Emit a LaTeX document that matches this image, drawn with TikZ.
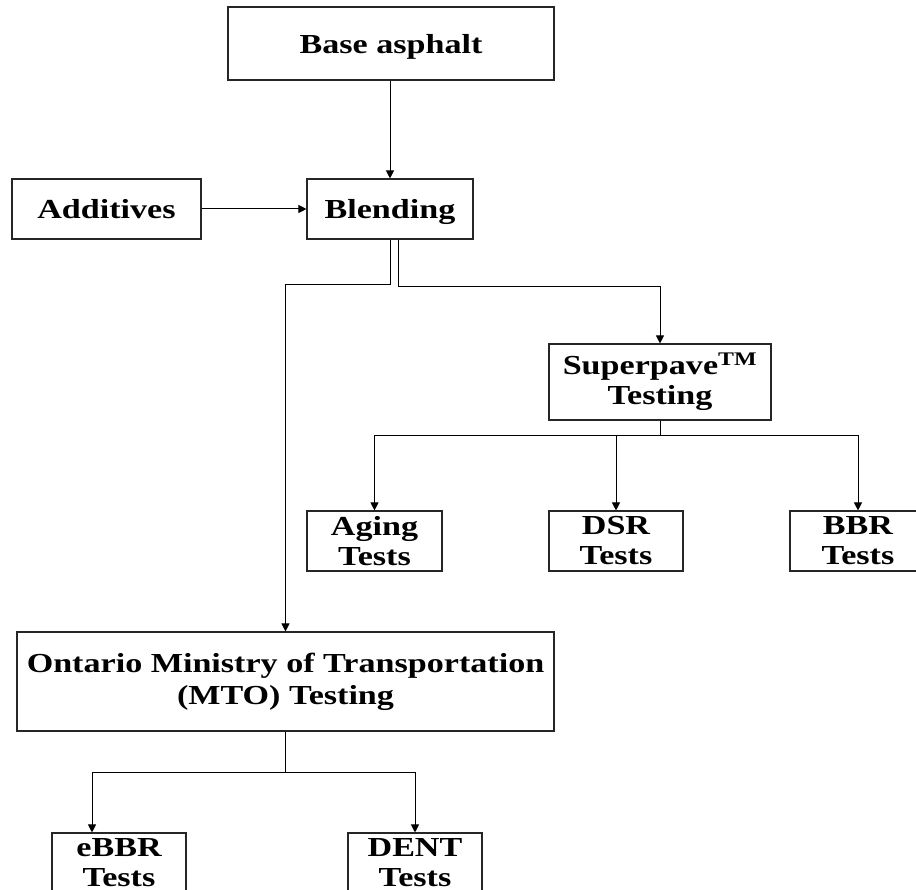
\documentclass[tikz,border=0pt]{standalone}
\usepackage{fontspec}
\setmainfont{Liberation Serif}
\usepackage{graphicx}
\usetikzlibrary{arrows.meta, calc}

% the source figure is stretched sideways
\newcommand{\flowtxt}[1]{\scalebox{1.24}[1]{#1}}

\begin{document}
\begin{tikzpicture}[
    x=1pt, y=1pt,
    >={Triangle[length=8pt, width=8pt]},
    box/.style={
        draw=black!85, line width=1.1pt, inner sep=0pt,
        minimum height=60pt, minimum width=134pt,
        align=center, fill=white,
        font=\fontsize{27.5}{30}\selectfont\bfseries,
    },
    arrow/.style={->, line width=1pt, draw=black},
]
\useasboundingbox (0,0) rectangle (916,-890);

% ============ NODES ============

% Inputs
\node[box, minimum width=326pt, minimum height=73pt, text depth=0pt] (base) at (391,-43.5) {\flowtxt{Base asphalt}};
\node[box, minimum width=189pt] (additives) at (106.5,-209) {\flowtxt{Additives}};
\node[box, minimum width=166pt, text depth=0pt] (blend) at (390,-209) {\flowtxt{Blending}};

% Superpave branch
\node[box, minimum width=222pt, minimum height=76pt] (superpave) at (660,-382)
    {\flowtxt{Superpave\textsuperscript{TM}} \\ \flowtxt{Testing}};
\node[box, minimum width=135pt] (aging) at (374.5,-541) {\flowtxt{Aging} \\ \flowtxt{Tests}};
\node[box] (dsr) at (616,-541) {\flowtxt{DSR} \\ \flowtxt{Tests}};
\node[box, minimum width=136pt] (bbr) at (858,-541) {\flowtxt{BBR} \\ \flowtxt{Tests}};

% MTO branch
\node[box, minimum width=537pt, minimum height=99pt, font=\fontsize{27.5}{32}\selectfont\bfseries] (mto) at (285.5,-681.5)
    {\flowtxt{Ontario Ministry of Transportation} \\ \flowtxt{(MTO) Testing}};
\node[box] (ebbr) at (119,-863) {\flowtxt{eBBR} \\ \flowtxt{Tests}};
\node[box] (dent) at (415,-863) {\flowtxt{DENT} \\ \flowtxt{Tests}};

% ============ ARROWS ============

\draw[arrow] (blend.north |- base.south) -- (blend.north);
\draw[arrow] (additives.east) -- (blend.west);

% Blending splits into the two test programmes
\draw[arrow] (blend.south) -- ++(0,-45) -| (mto.north);
\draw[arrow] ($(blend.south)+(8,0)$) -- ++(0,-47) -| (superpave.north);

% Superpave -> its three tests
\draw[arrow] (superpave.south) -- ++(0,-15) -| (aging.north);
\draw[arrow] (superpave.south) -- ++(0,-15) -| (dsr.north);
\draw[arrow] (superpave.south) -- ++(0,-15) -| (bbr.north);

% MTO -> its two tests
\draw[arrow] (mto.south) -- ++(0,-41) -| ($(ebbr.north)+(-27,0)$);
\draw[arrow] (mto.south) -- ++(0,-41) -| (dent.north);

\end{tikzpicture}
\end{document}
